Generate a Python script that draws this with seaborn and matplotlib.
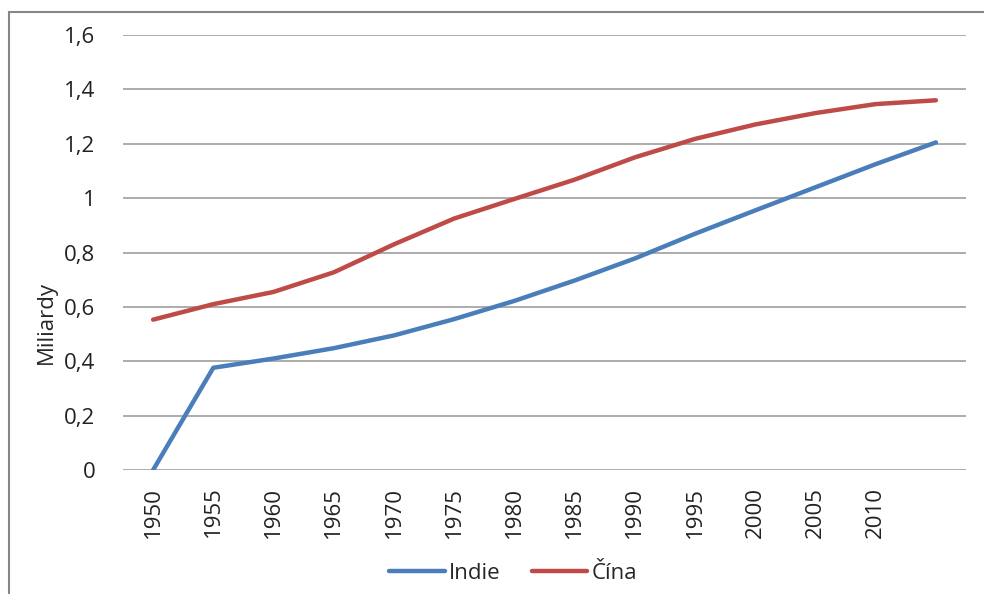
import matplotlib
matplotlib.use("Agg")
import matplotlib.pyplot as plt
import pandas as pd
import seaborn as sns
from matplotlib.ticker import FuncFormatter
from matplotlib.patches import Rectangle

# data (miliardy)
years = [1950, 1955, 1960, 1965, 1970, 1975, 1980, 1985, 1990, 1995, 2000, 2005, 2010, 2015]
year_labels = ["1950", "1955", "1960", "1965", "1970", "1975", "1980", "1985",
               "1990", "1995", "2000", "2005", "2010", ""]
indie = [0.0, 0.376, 0.410, 0.448, 0.495, 0.555, 0.622, 0.697, 0.778, 0.869, 0.955, 1.040, 1.125, 1.205]
cina = [0.553, 0.610, 0.655, 0.727, 0.830, 0.925, 0.997, 1.068, 1.150, 1.218, 1.271, 1.313, 1.346, 1.360]

df = pd.DataFrame({
    "x": list(range(len(years))) * 2,
    "value": indie + cina,
    "serie": ["Indie"] * len(years) + ["Čína"] * len(years),
})

sns.set_style("white")
plt.rcParams['font.family'] = ['Open Sans', 'DejaVu Sans']

fig = plt.figure(figsize=(9.84, 5.94), dpi=100)
ax = fig.add_axes([0.125, 0.2088, 0.8567, 0.7322])

sns.lineplot(data=df, x="x", y="value", hue="serie",
             palette={"Indie": "#4A7EBB", "Čína": "#BE4B48"},
             linewidth=3.2, ax=ax, legend=True)

ax.set_xlim(-0.5, len(years) - 0.5)
ax.set_ylim(0, 1.6)
ax.set_yticks([0, 0.2, 0.4, 0.6, 0.8, 1.0, 1.2, 1.4, 1.6])
ax.yaxis.set_major_formatter(FuncFormatter(lambda v, p: f"{v:g}".replace(".", ",")))
ax.set_xticks(range(len(years)))
ax.set_xticklabels(year_labels, rotation=90)
ax.tick_params(axis="y", length=0, pad=20, labelsize=16, colors="#222222")
ax.tick_params(axis="x", length=0, pad=12, labelsize=16, colors="#222222")

ax.grid(axis="y", color="#A6A6A6", linewidth=1.3)
ax.set_axisbelow(True)
for s in ax.spines.values():
    s.set_visible(False)

ax.set_xlabel("")
ax.set_ylabel("Miliardy", fontsize=16)
ax.yaxis.set_label_coords(-0.079, 0.34)

leg = ax.legend(loc="center", bbox_to_anchor=(0.463, -0.237), ncol=2, frameon=False,
                fontsize=16, handlelength=2.5, handletextpad=0.2, columnspacing=1.4)

# chart frame (top and left edges visible)
fig.patches.append(Rectangle((0.009, -0.05), 1.2, 0.98 + 0.05, transform=fig.transFigure,
                             fill=False, edgecolor="#868686", linewidth=1.5))

fig.savefig("out.png", dpi=100)
